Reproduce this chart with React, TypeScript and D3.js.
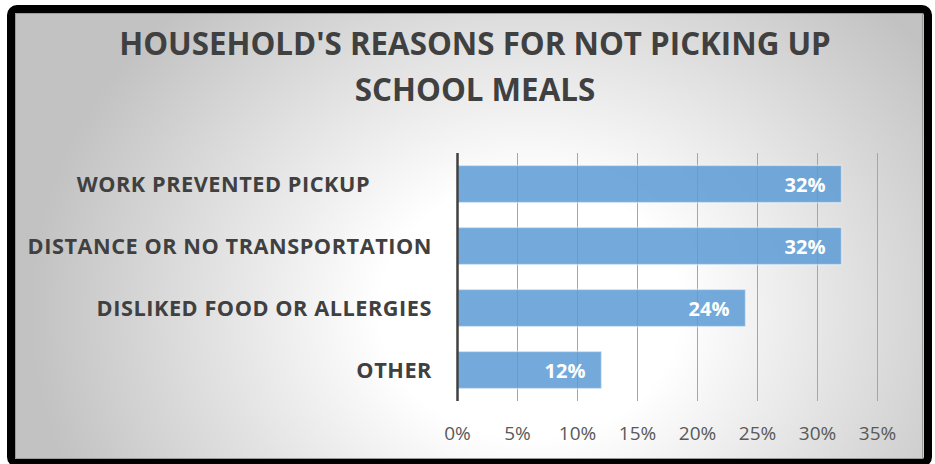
import React from "react";
import * as d3 from "d3";

const titleLines = ["HOUSEHOLD'S REASONS FOR NOT PICKING UP", "SCHOOL MEALS"];
const categories = [
  "WORK PREVENTED PICKUP\u00a0\u00a0\u00a0\u00a0\u00a0\u00a0\u00a0\u00a0\u00a0\u00a0",
  "DISTANCE OR NO TRANSPORTATION",
  "DISLIKED FOOD OR ALLERGIES",
  "OTHER",
];
const values = [0.32, 0.32, 0.24, 0.12];
const xTicks = [0, 0.05, 0.1, 0.15, 0.2, 0.25, 0.3, 0.35];

const W = 935;
const H = 464;
const FONT = "'Open Sans', 'Noto Sans', sans-serif";

export default function App() {
  const x = d3.scaleLinear().domain([0, 0.35]).range([457.5, 877.5]);
  const y = d3
    .scaleBand<string>()
    .domain(categories)
    .range([153, 401])
    .paddingInner(0.4)
    .paddingOuter(0.2);
  const fmt = d3.format(".0%");
  const [y0, y1] = y.range();

  return (
    <svg
      width={W}
      height={H}
      style={{ position: "absolute", left: 0, top: 0, display: "block" }}
      fontFamily={FONT}
    >
      <defs>
        <radialGradient
          id="bg"
          gradientUnits="userSpaceOnUse"
          cx={530}
          cy={310}
          r={500}
          gradientTransform="translate(530 310) scale(1 0.85) translate(-530 -310)"
        >
          <stop offset="0" stopColor="#ffffff" />
          <stop offset="0.3" stopColor="#ffffff" />
          <stop offset="1" stopColor="#c2c2c2" />
        </radialGradient>
      </defs>
      <rect x={0} y={0} width={W} height={H} fill="#ffffff" />
      <rect
        x={11}
        y={9}
        width={917}
        height={454}
        rx={6}
        fill="url(#bg)"
        stroke="#000000"
        strokeWidth={8}
      />
      <rect x={15.5} y={13.5} width={907} height={445} fill="none" stroke="#9a9a9a" strokeWidth={1} />

      {titleLines.map((t, i) => (
        <text
          key={t}
          x={475}
          y={55 + i * 46}
          textAnchor="middle"
          fontSize={31.3}
          fontWeight={700}
          fill="#404040"
        >
          {t}
        </text>
      ))}

      {xTicks.slice(1).map((t) => (
        <line
          key={t}
          x1={x(t)}
          x2={x(t)}
          y1={y0}
          y2={y1}
          stroke="#a6a6a6"
          strokeWidth={1}
        />
      ))}

      {categories.map((c, i) => (
        <rect
          key={c}
          x={x(0)}
          y={y(c)}
          width={x(values[i]) - x(0)}
          height={y.bandwidth()}
          fill="#5B9BD5"
          fillOpacity={0.85}
          stroke="#ffffff"
          strokeOpacity={0.45}
          strokeWidth={1.5}
        />
      ))}

      <line x1={x(0)} x2={x(0)} y1={y0} y2={y1} stroke="#404040" strokeWidth={2.5} />

      {categories.map((c, i) => (
        <text
          key={c + "v"}
          x={x(values[i]) - 16}
          y={(y(c) as number) + y.bandwidth() / 2 + 7.5}
          textAnchor="end"
          fontSize={20}
          fontWeight={700}
          fill="#ffffff"
        >
          {fmt(values[i])}
        </text>
      ))}

      {categories.map((c) => (
        <text
          key={c + "l"}
          x={432}
          y={(y(c) as number) + y.bandwidth() / 2 + 7.5}
          textAnchor="end"
          fontSize={21.7}
          letterSpacing={0.55}
          fontWeight={700}
          fill="#404040"
          style={{ whiteSpace: "pre" }}
        >
          {c}
        </text>
      ))}

      {xTicks.map((t) => (
        <text
          key={t + "t"}
          x={x(t)}
          y={440}
          textAnchor="middle"
          fontSize={19}
          fill="#595959"
        >
          {fmt(t)}
        </text>
      ))}
    </svg>
  );
}
